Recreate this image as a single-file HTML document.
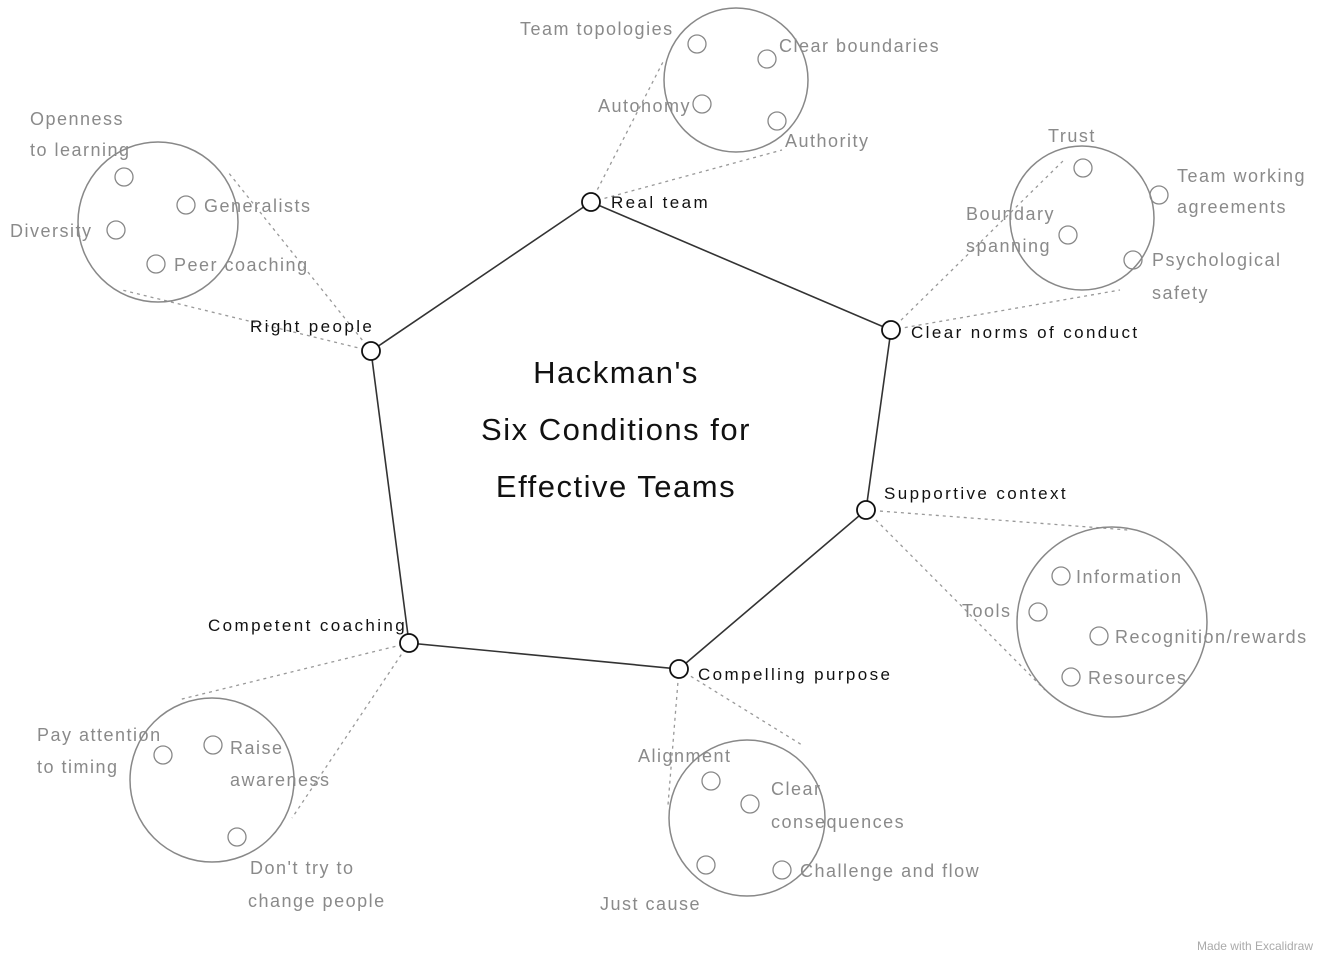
<!DOCTYPE html>
<html><head><meta charset="utf-8"><style>
html,body{margin:0;padding:0;background:#fff}
svg{display:block}
text{font-family:"Liberation Sans",sans-serif}
.g{fill:#8a8a8a;font-size:18px;letter-spacing:1.5px}
.b{fill:#111;font-size:17px;letter-spacing:2.4px}
</style></head><body>
<svg width="1321" height="957" viewBox="0 0 1321 957" xmlns="http://www.w3.org/2000/svg">
<g fill="none" stroke="#999" stroke-width="1.3" stroke-dasharray="3,4">
<line x1="591" y1="202" x2="664" y2="60"/><line x1="591" y1="202" x2="782" y2="150"/>
<line x1="371" y1="351" x2="228" y2="172"/><line x1="371" y1="351" x2="122" y2="290"/>
<line x1="891" y1="330" x2="1064" y2="160"/><line x1="891" y1="330" x2="1120" y2="290"/>
<line x1="866" y1="510" x2="1128" y2="530"/><line x1="866" y1="510" x2="1045" y2="690"/>
<line x1="679" y1="669" x2="668" y2="805"/><line x1="679" y1="669" x2="802" y2="745"/>
<line x1="409" y1="643" x2="178" y2="700"/><line x1="409" y1="643" x2="292" y2="818"/>
</g>
<g fill="none" stroke="#888" stroke-width="1.5">
<circle cx="736" cy="80" r="72"/><circle cx="158" cy="222" r="80"/>
<circle cx="1082" cy="218" r="72"/><circle cx="1112" cy="622" r="95"/>
<circle cx="747" cy="818" r="78"/><circle cx="212" cy="780" r="82"/>
<g stroke-width="1.3">
<circle cx="697" cy="44" r="9"/><circle cx="767" cy="59" r="9"/><circle cx="702" cy="104" r="9"/><circle cx="777" cy="121" r="9"/>
<circle cx="124" cy="177" r="9"/><circle cx="186" cy="205" r="9"/><circle cx="116" cy="230" r="9"/><circle cx="156" cy="264" r="9"/>
<circle cx="1083" cy="168" r="9"/><circle cx="1159" cy="195" r="9"/><circle cx="1068" cy="235" r="9"/><circle cx="1133" cy="260" r="9"/>
<circle cx="1061" cy="576" r="9"/><circle cx="1038" cy="612" r="9"/><circle cx="1099" cy="636" r="9"/><circle cx="1071" cy="677" r="9"/>
<circle cx="711" cy="781" r="9"/><circle cx="750" cy="804" r="9"/><circle cx="706" cy="865" r="9"/><circle cx="782" cy="870" r="9"/>
<circle cx="163" cy="755" r="9"/><circle cx="213" cy="745" r="9"/><circle cx="237" cy="837" r="9"/>
</g></g>
<polygon points="591,202 891,330 866,510 679,669 409,643 371,351" fill="none" stroke="#333" stroke-width="1.6"/>
<g fill="#fff" stroke="#111" stroke-width="1.8">
<circle cx="591" cy="202" r="9"/><circle cx="891" cy="330" r="9"/><circle cx="866" cy="510" r="9"/>
<circle cx="679" cy="669" r="9"/><circle cx="409" cy="643" r="9"/><circle cx="371" cy="351" r="9"/>
</g>
<g class="b">
<text x="611" y="208">Real team</text>
<text x="911" y="338">Clear norms of conduct</text>
<text x="884" y="499">Supportive context</text>
<text x="698" y="680">Compelling purpose</text>
<text x="208" y="631">Competent coaching</text>
<text x="250" y="332">Right people</text>
</g>
<g fill="#111" font-size="31" text-anchor="middle" letter-spacing="1.5">
<text x="616" y="383">Hackman's</text>
<text x="616" y="440">Six Conditions for</text>
<text x="616" y="497">Effective Teams</text>
</g>
<g class="g">
<text x="520" y="35">Team topologies</text><text x="779" y="52">Clear boundaries</text>
<text x="598" y="112">Autonomy</text><text x="785" y="147">Authority</text>
<text x="30" y="125">Openness</text><text x="30" y="156">to learning</text>
<text x="204" y="212">Generalists</text><text x="10" y="237">Diversity</text><text x="174" y="271">Peer coaching</text>
<text x="1048" y="142">Trust</text><text x="1177" y="182">Team working</text><text x="1177" y="213">agreements</text>
<text x="966" y="220">Boundary</text><text x="966" y="252">spanning</text>
<text x="1152" y="266">Psychological</text><text x="1152" y="299">safety</text>
<text x="1076" y="583">Information</text><text x="962" y="617">Tools</text>
<text x="1115" y="643">Recognition/rewards</text><text x="1088" y="684">Resources</text>
<text x="638" y="762">Alignment</text><text x="771" y="795">Clear</text><text x="771" y="828">consequences</text>
<text x="600" y="910">Just cause</text><text x="800" y="877">Challenge and flow</text>
<text x="37" y="741">Pay attention</text><text x="37" y="773">to timing</text>
<text x="230" y="754">Raise</text><text x="230" y="786">awareness</text>
<text x="250" y="874">Don't try to</text><text x="248" y="907">change people</text>
</g>
<text x="1313" y="950" text-anchor="end" fill="#aaa" font-size="12">Made with Excalidraw</text>
</svg>
</body></html>
